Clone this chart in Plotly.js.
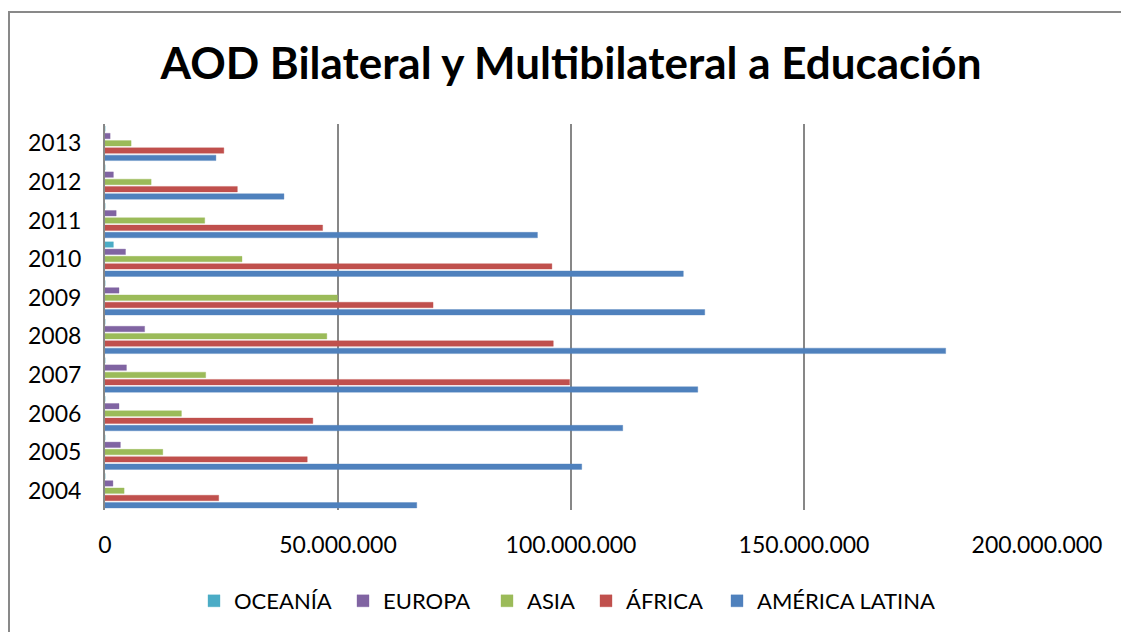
<!DOCTYPE html>
<html>
<head>
<meta charset="utf-8">
<script src="https://cdn.plot.ly/plotly-3.0.1.min.js"></script>
<style>
  html, body { margin: 0; padding: 0; background: #fff; }
  #wrap { position: relative; width: 1121px; height: 632px; overflow: hidden; }
  #chart { position: absolute; left: 0; top: 0; width: 1121px; height: 632px; }
  #frame { position: absolute; left: 8px; top: 11px; width: 1200px; height: 700px;
           border-left: 2px solid #898989; border-top: 2px solid #898989; pointer-events: none; }
</style>
</head>
<body>
<div id="wrap">
  <div id="chart"></div>
  <div id="frame"></div>
</div>
<script>
const years = ["2004","2005","2006","2007","2008","2009","2010","2011","2012","2013"];
const americaLatina = [66900000, 102300000, 111100000, 127200000, 180400000, 128700000, 124100000, 92800000, 38400000, 23800000];
const africa        = [24400000, 43400000, 44600000, 99700000, 96200000, 70400000, 95900000, 46700000, 28400000, 25500000];
const asia          = [4100000, 12400000, 16400000, 21600000, 47600000, 49900000, 29400000, 21400000, 9900000, 5600000];
const europa        = [1700000, 3300000, 3000000, 4600000, 8500000, 3000000, 4400000, 2400000, 1800000, 1100000];
const oceania       = [0, 0, 0, 0, 0, 0, 1800000, 0, 0, 0];
const seriesNames = ["AMÉRICA LATINA", "ÁFRICA", "ASIA", "EUROPA", "OCEANÍA"];
const seriesColors = ["#4F81BD", "#C0504D", "#9BBB59", "#8064A2", "#4BACC6"];
const seriesGlow = ["rgba(79,129,189,0.35)", "rgba(192,80,77,0.35)", "rgba(155,187,89,0.35)", "rgba(128,100,162,0.35)", "rgba(75,172,198,0.35)"];
const xTicks = [0, 50000000, 100000000, 150000000, 200000000];

// legend layout (pixel x where each legend label text starts)
const legendIds = ["legend5", "legend4", "legend3", "legend2", "legend"];
const legendTextX = [757, 626, 527, 383, 234];

const allSeries = [americaLatina, africa, asia, europa, oceania];
const traces = allSeries.map((vals, i) => ({
  type: "bar",
  orientation: "h",
  y: years,
  x: vals,
  name: seriesNames[i],
  legend: legendIds[i],
  marker: { color: seriesColors[i], line: { color: seriesGlow[i], width: 1 } },
  hoverinfo: "x+name"
}));

const font = "Lato, 'Open Sans', sans-serif";
const layout = {
  width: 1121,
  height: 632,
  paper_bgcolor: "#ffffff",
  plot_bgcolor: "#ffffff",
  separators: ",.",
  barmode: "group",
  bargap: 0.057,
  bargroupgap: 0.25,
  margin: { l: 105, r: 84, t: 124, b: 122, pad: 0 },
  title: {
    text: "<b>AOD Bilateral y Multibilateral a Educación</b>",
    font: { family: font, size: 44, color: "#000" },
    x: 0.5, xref: "paper", xanchor: "center",
    y: 1 - 64/632, yref: "container", yanchor: "middle"
  },
  xaxis: {
    range: [0, 200000000],
    tickvals: xTicks,
    tickformat: ",d",
    showgrid: true,
    gridcolor: "#878787",
    gridwidth: 2,
    zeroline: false,
    showline: false,
    ticks: "",
    ticklabelstandoff: 19,
    tickfont: { family: font, size: 23, color: "#000" },
    fixedrange: true
  },
  yaxis: {
    type: "category",
    showgrid: false,
    zeroline: false,
    showline: true,
    linecolor: "#878787",
    linewidth: 2,
    ticks: "",
    ticklabelstandoff: 17,
    tickfont: { family: font, size: 23, color: "#000" },
    fixedrange: true
  },
  showlegend: true
};

legendIds.forEach((id, i) => {
  layout[id] = {
    orientation: "h",
    xref: "container", yref: "container",
    x: (legendTextX[i] - 40) / 1121, xanchor: "left",
    y: 1 - 601 / 632, yanchor: "middle",
    font: { family: font, size: 22, color: "#000" },
    bgcolor: "rgba(0,0,0,0)",
    borderwidth: 0,
    itemwidth: 30
  };
});

Plotly.newPlot("chart", traces, layout, { displayModeBar: false, staticPlot: true });
</script>
</body>
</html>
